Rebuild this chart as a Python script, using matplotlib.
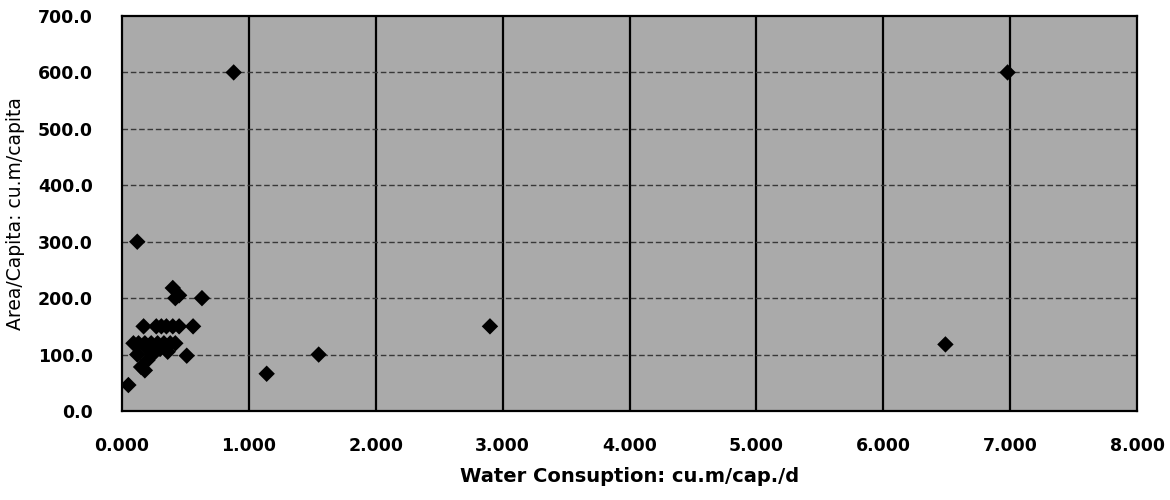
import matplotlib
matplotlib.use("Agg")
import matplotlib.pyplot as plt
from matplotlib.ticker import FormatStrFormatter

# Water consumption (cu.m/cap./d) vs area per capita (cu.m/capita)
water_use = [0.88, 6.98, 0.12, 2.90, 1.55, 1.14, 6.49, 0.05,
             0.40, 0.42, 0.45, 0.63,
             0.17, 0.27, 0.31, 0.35, 0.40, 0.45, 0.56,
             0.09, 0.13, 0.18, 0.23, 0.28, 0.33, 0.38, 0.42,
             0.20, 0.30, 0.36,
             0.51,
             0.15, 0.18, 0.20, 0.12, 0.24]
area_per_cap = [600, 600, 300, 150, 100, 66, 118, 46,
                218, 200, 205, 200,
                150, 150, 150, 150, 150, 150, 150,
                120, 120, 120, 120, 120, 120, 120, 120,
                110, 110, 105,
                98,
                78, 72, 90, 100, 100]

x_ticks = [0, 1, 2, 3, 4, 5, 6, 7, 8]
y_ticks = [0, 100, 200, 300, 400, 500, 600, 700]

plt.rcParams["font.family"] = ["DejaVu Sans"]

fig = plt.figure(figsize=(11.7, 5.0), dpi=100)
ax = fig.add_axes([0.1043, 0.178, 0.8675, 0.790])
ax.set_facecolor("#aaaaaa")

ax.scatter(water_use, area_per_cap, marker="D", s=70, color="black",
           edgecolors="none", zorder=3)

ax.set_xlim(0, 8)
ax.set_ylim(0, 700)
ax.set_xticks(x_ticks)
ax.set_yticks(y_ticks)
ax.xaxis.set_major_formatter(FormatStrFormatter("%.3f"))
ax.yaxis.set_major_formatter(FormatStrFormatter("%.1f"))

# vertical grid solid black, horizontal grid dashed dark
for xv in x_ticks[1:-1]:
    ax.axvline(xv, color="black", lw=1.6, zorder=1)
for yv in y_ticks[1:-1]:
    ax.axhline(yv, color="#383838", lw=1.0, ls=(0, (4, 2)), zorder=1)

for sp in ax.spines.values():
    sp.set_color("black")
    sp.set_linewidth(1.6)

ax.tick_params(length=0, labelsize=12.5)
ax.tick_params(axis="x", pad=19)
ax.tick_params(axis="y", pad=21)
for lbl in ax.get_xticklabels() + ax.get_yticklabels():
    lbl.set_fontweight("bold")

ax.set_xlabel("Water Consuption: cu.m/cap./d", fontsize=14,
              fontweight="bold", labelpad=8)
ax.set_ylabel("Area/Capita: cu.m/capita", fontsize=13.5, labelpad=9)

fig.savefig("out.png", dpi=100)
